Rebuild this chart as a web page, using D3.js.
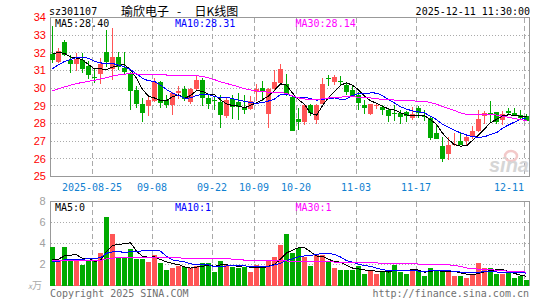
<!DOCTYPE html>
<html><head><meta charset="utf-8">
<script src="https://cdn.jsdelivr.net/npm/d3@7/dist/d3.min.js"></script>
<style>body{margin:0;background:#fff}svg{display:block}</style>
</head><body>
<svg id="c" width="545" height="300"></svg>
<script>
// ---------- data ----------
const dates = [
"2025-08-14","2025-08-15","2025-08-18","2025-08-19","2025-08-20","2025-08-21","2025-08-22","2025-08-25","2025-08-26","2025-08-27","2025-08-28","2025-08-29",
"2025-09-01","2025-09-02","2025-09-03","2025-09-04","2025-09-05","2025-09-08","2025-09-09","2025-09-10","2025-09-11","2025-09-12","2025-09-15","2025-09-16","2025-09-17","2025-09-18","2025-09-19","2025-09-22","2025-09-23","2025-09-24","2025-09-25","2025-09-26","2025-09-29","2025-09-30",
"2025-10-09","2025-10-10","2025-10-13","2025-10-14","2025-10-15","2025-10-16","2025-10-17","2025-10-20","2025-10-21","2025-10-22","2025-10-23","2025-10-24","2025-10-27","2025-10-28","2025-10-29","2025-10-30","2025-10-31",
"2025-11-03","2025-11-04","2025-11-05","2025-11-06","2025-11-07","2025-11-10","2025-11-11","2025-11-12","2025-11-13","2025-11-14","2025-11-17","2025-11-18","2025-11-19","2025-11-20","2025-11-21","2025-11-24","2025-11-25","2025-11-26","2025-11-27","2025-11-28",
"2025-12-01","2025-12-02","2025-12-03","2025-12-04","2025-12-05","2025-12-08","2025-12-09","2025-12-10","2025-12-11"];

const open  = [31.96,31.47,32.64,31.62,31.36,31.58,31.25,30.66,30.81,32.04,31.11,31.74,31.15,30.87,29.92,29.08,28.98,29.26,30.36,29.32,
               29.02,29.70,29.98,29.20,29.97,30.45,29.46,29.32,29.21,28.40,29.41,29.20,28.92,28.80,29.78,29.99,28.51,29.94,30.32,30.21,
               29.52,28.28,28.08,29.03,28.18,29.10,30.55,30.34,30.42,30.19,29.92,29.64,29.03,28.52,29.00,28.92,28.74,28.57,28.62,28.63,
               28.30,28.88,28.42,28.30,27.49,26.75,26.28,26.82,27.00,26.99,27.21,27.56,28.40,28.60,28.66,28.17,28.68,28.58,28.49,28.40];
const high  = [33.50,32.28,32.72,31.89,32.00,32.00,31.53,31.15,31.68,33.30,33.40,32.06,32.04,30.90,30.10,29.45,29.55,30.58,30.40,29.64,
               29.78,30.10,30.11,30.02,30.68,30.58,29.64,29.55,29.64,29.45,29.64,29.70,29.64,29.55,30.25,30.40,30.02,31.03,31.38,30.81,
               29.58,28.90,29.08,29.13,29.13,30.60,30.77,30.75,30.70,30.32,30.13,29.79,29.31,29.12,29.16,29.07,28.84,29.07,28.78,28.73,
               28.96,28.98,28.78,28.35,27.90,27.23,27.22,27.45,27.46,27.40,27.85,28.78,28.68,29.30,28.66,28.70,28.88,28.90,28.78,28.55];
const low   = [31.45,31.40,31.80,30.87,30.96,30.87,30.53,30.30,30.21,31.21,30.45,31.05,30.77,28.75,28.85,28.08,28.40,29.20,28.90,28.85,
               28.47,29.36,29.30,29.13,29.92,28.98,28.83,28.79,27.72,28.32,28.23,28.20,28.51,28.75,29.26,29.26,27.72,29.87,30.21,29.55,
               27.56,27.66,27.92,28.42,27.98,29.08,30.15,30.17,30.12,29.63,29.50,28.78,28.55,28.50,28.80,28.50,28.10,28.16,27.98,28.08,
               28.17,28.30,28.15,27.08,27.10,25.80,25.95,26.75,26.78,26.70,27.15,27.50,28.00,28.08,27.98,27.93,28.46,28.40,28.25,28.12];
const close = [31.58,32.08,31.85,31.36,31.66,31.06,30.74,30.62,31.38,31.47,31.74,31.21,30.90,29.83,29.10,28.60,29.32,30.36,29.17,29.02,
               29.70,29.86,29.36,29.97,30.45,29.43,29.08,29.26,28.48,29.33,28.92,28.95,28.74,29.25,29.98,29.83,29.98,30.34,31.11,29.60,
               27.60,28.08,29.02,28.60,29.06,30.25,30.50,30.63,30.38,29.77,29.57,29.18,28.86,29.08,29.03,28.74,28.41,28.54,28.34,28.40,
               28.53,28.58,28.36,27.18,27.14,26.01,26.80,26.86,26.80,27.22,27.56,28.27,28.62,28.58,28.10,28.56,28.60,28.50,28.30,28.16];
// volume, 万
const volume = [3.71,2.32,3.71,2.54,2.32,2.00,2.32,2.29,3.05,6.48,4.95,2.76,2.67,3.52,2.48,2.48,2.25,2.95,2.19,1.43,
                1.62,1.81,1.78,1.65,1.87,2.10,2.19,1.33,2.29,1.94,1.78,1.71,1.78,1.33,1.94,1.71,2.38,2.70,3.81,4.86,
                3.08,3.56,2.76,1.81,2.86,2.86,2.25,1.62,1.52,1.46,1.46,1.81,1.14,1.37,1.05,1.37,1.49,2.00,1.24,1.14,
                1.59,1.40,0.95,1.71,1.37,1.37,1.49,0.86,0.95,0.76,1.05,2.10,1.62,1.62,1.05,1.14,1.24,0.67,0.86,0.48];
// sessions before the visible window (estimated from the MA lines' starting levels)
const priorClose = [28.5,28.7,28.6,28.9,29.0,28.8,29.1,29.0,29.2,29.3,29.1,29.4,29.5,29.3,29.6,29.5,29.7,29.6,29.8,29.9,
                    29.8,30.0,30.3,30.5,30.8,31.5,32.2,32.3,32.0];
const priorVolume = [2.2,2.5,2.8,2.1,2.4,2.6,2.3,2.0,2.7,2.5,2.2,2.4,2.9,2.3,2.1,2.6,2.4,2.2,2.5,2.3,
                     1.9,2.2,2.0,2.1,2.1,2.0,2.1,2.17,2.22];

const priceTicks = [25,26,27,28,29,30,31,32,33,34];
const volTicks = [2,4,6,8];
const tickDates  = ["2025-08-25","2025-09-08","2025-09-22","2025-10-09","2025-10-20","2025-11-03","2025-11-17","2025-12-11"];
const tickLabels = ["2025-08-25","09-08","09-22","10-09","10-20","11-03","11-17","12-11"];
const maPeriods = [5,10,30];
const maColors = ["#000000","#0000ff","#ff00ff"];
const priceLegend = ["MA5:28.40","MA10:28.31","MA30:28.14"];
const volLegend = ["MA5:0","MA10:1","MA30:1"];
const code = "sz301107";
const stamp = "2025-12-11 11:30:00";

// ---------- drawing ----------
const svg = d3.select("#c");
const RED = "#ff5555", GREEN = "#00aa00";
const MONO = "'DejaVu Sans Mono', monospace";
const x = d3.scaleBand().domain(dates).range([50, 530]);
const cx = d => x(d) + 2.5;
const y = d3.scaleLinear().domain([25, 34]).range([176.5, 17.5]);
const yv = d3.scaleLinear().domain([0, 8]).range([285.5, 201.5]);
const px = v => Math.round(v - 0.5) + 0.5;

function movingAvg(prior, vals, n) {
  const all = prior.concat(vals), off = prior.length;
  return vals.map((_, i) => d3.mean(all.slice(off + i - n + 1, off + i + 1)));
}

// header
svg.append("text").attr("x", 49).attr("y", 15).attr("font-family", MONO).attr("font-size", 10).text(code);
svg.append("text").attr("x", 121).attr("y", 15.5).attr("font-family", "'Noto Sans CJK SC'").attr("font-size", 12).text("瑜欣电子");
svg.append("text").attr("x", 179).attr("y", 15.5).attr("text-anchor", "middle").attr("font-family", "'Noto Sans CJK SC'").attr("font-size", 12).text("-");
svg.append("text").attr("x", 194.5).attr("y", 15.5).attr("font-family", "'Noto Sans CJK SC'").attr("font-size", 12).text("日K线图");
svg.append("text").attr("x", 530).attr("y", 15).attr("text-anchor", "end").attr("font-family", MONO).attr("font-size", 10).text(stamp);

function panel(yTop, yBot, scaleY, gridVals) {
  const g = svg.append("g");
  g.selectAll("line.h").data(gridVals).join("line")
    .attr("x1", 50.5).attr("x2", 529.5)
    .attr("y1", d => px(scaleY(d))).attr("y2", d => px(scaleY(d)))
    .attr("stroke", "#aaaaaa").attr("stroke-dasharray", "1,2").attr("shape-rendering", "crispEdges");
  g.selectAll("line.v").data(tickDates).join("line")
    .attr("x1", d => x(d) + 0.5).attr("x2", d => x(d) + 0.5)
    .attr("y1", yTop).attr("y2", yBot)
    .attr("stroke", "#aaaaaa").attr("stroke-dasharray", "5,3").attr("shape-rendering", "crispEdges");
  g.append("rect").attr("x", 50.5).attr("y", yTop).attr("width", 479).attr("height", yBot - yTop)
    .attr("fill", "none").attr("stroke", "#999").attr("shape-rendering", "crispEdges");
}
panel(17.5, 176.5, y, priceTicks.filter(v => v > 25 && v < 34));
panel(201.5, 285.5, yv, volTicks.filter(v => v < 8));

// price axis labels
svg.append("g").selectAll("text").data(priceTicks).join("text")
  .attr("x", 46).attr("y", d => y(d)).attr("dy", "0.36em").attr("text-anchor", "end")
  .attr("font-family", "'Liberation Sans', Arial, sans-serif").attr("font-size", 11).attr("fill", "#ff0000")
  .text(d => d);
// volume axis labels
svg.append("g").selectAll("text").data(volTicks).join("text")
  .attr("x", 45.5).attr("y", d => yv(d)).attr("dy", "0.36em").attr("text-anchor", "end")
  .attr("font-family", "'Liberation Sans', Arial, sans-serif").attr("font-size", 11).attr("fill", "#a0a0a0")
  .text(d => d);
const unit = svg.append("text").attr("x", 28).attr("y", 289).attr("fill", "#aaaaaa").attr("font-family", "'Noto Sans CJK SC'");
unit.append("tspan").attr("font-size", 8).attr("font-style", "italic").text("x");
unit.append("tspan").attr("font-size", 10).text("万");

// date labels
svg.append("g").selectAll("text").data(tickDates).join("text")
  .attr("x", d => x(d)).attr("y", 190.5)
  .attr("text-anchor", (d, i) => i === tickDates.length - 1 ? "end" : "middle")
  .attr("font-family", MONO).attr("font-size", 10).attr("fill", "#1080d0")
  .text((d, i) => tickLabels[i]);

// watermark
const wm = svg.append("g");
wm.append("ellipse").attr("cx", 511).attr("cy", 156).attr("rx", 6).attr("ry", 5).attr("fill", "none").attr("stroke", "#f3c9c9").attr("stroke-width", 2.5);
wm.append("text").attr("x", 529).attr("y", 172).attr("text-anchor", "end").attr("font-family", "'Liberation Sans', Arial, sans-serif")
  .attr("font-size", 20).attr("font-weight", "bold").attr("font-style", "italic").attr("fill", "#d6d6d6").text("sina");

// candles
const idx = d3.range(dates.length);
const cg = svg.append("g").attr("shape-rendering", "crispEdges");
cg.selectAll("line").data(idx).join("line")
  .attr("x1", i => cx(dates[i])).attr("x2", i => cx(dates[i]))
  .attr("y1", i => y(high[i])).attr("y2", i => y(low[i]))
  .attr("stroke", i => close[i] >= open[i] ? RED : GREEN);
cg.selectAll("rect").data(idx).join("rect")
  .attr("x", i => x(dates[i])).attr("width", 5)
  .attr("y", i => y(Math.max(open[i], close[i])))
  .attr("height", i => Math.max(1, Math.abs(y(open[i]) - y(close[i]))))
  .attr("fill", i => close[i] >= open[i] ? RED : GREEN);

// volume bars
svg.append("g").attr("shape-rendering", "crispEdges").selectAll("rect").data(idx).join("rect")
  .attr("x", i => x(dates[i])).attr("width", 5)
  .attr("y", i => yv(volume[i])).attr("height", i => yv(0) - yv(volume[i]))
  .attr("fill", i => close[i] >= open[i] ? RED : GREEN);

// MA lines
maPeriods.forEach((n, k) => {
  const pm = movingAvg(priorClose, close, n);
  svg.append("path").datum(pm)
    .attr("d", d3.line().x((d, i) => cx(dates[i])).y(d => y(d)))
    .attr("fill", "none").attr("stroke", maColors[k]).attr("stroke-width", 1).attr("shape-rendering", "crispEdges");
  const vm = movingAvg(priorVolume, volume, n);
  svg.append("path").datum(vm)
    .attr("d", d3.line().x((d, i) => cx(dates[i])).y(d => yv(d)))
    .attr("fill", "none").attr("stroke", maColors[k]).attr("stroke-width", 1).attr("shape-rendering", "crispEdges");
});

// legends
const legX = [55, 175, 295.5];
priceLegend.forEach((t, k) => svg.append("text").attr("x", legX[k]).attr("y", 27)
  .attr("font-family", MONO).attr("font-size", 10).attr("fill", maColors[k]).text(t));
volLegend.forEach((t, k) => svg.append("text").attr("x", legX[k]).attr("y", 211)
  .attr("font-family", MONO).attr("font-size", 10).attr("fill", maColors[k]).text(t));

// footer
svg.append("text").attr("x", 50).attr("y", 296.5).attr("font-family", MONO).attr("font-size", 10).attr("fill", "#707070").text("Copyright 2025 SINA.COM");
svg.append("text").attr("x", 529).attr("y", 296.5).attr("text-anchor", "end").attr("font-family", MONO).attr("font-size", 10).attr("fill", "#707070").text("http://finance.sina.com.cn");
</script>
</body></html>
